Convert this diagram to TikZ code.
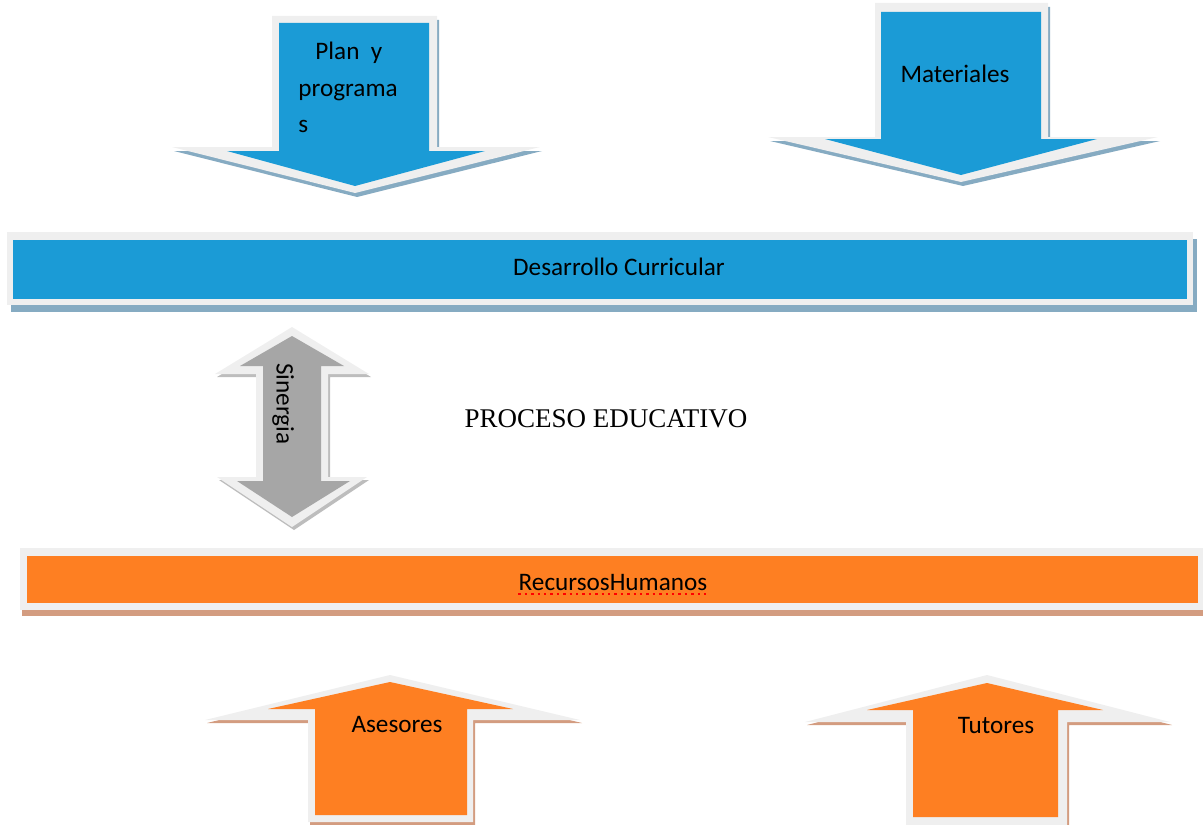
\documentclass[tikz,border=0pt]{standalone}
\usepackage{fontspec}
\setmainfont{Carlito}
\newfontfamily\timesfont{Liberation Serif}
\usetikzlibrary{calc}

\definecolor{cblue}{HTML}{1B9BD6}
\definecolor{cblueshadow}{HTML}{86ABC2}
\definecolor{corange}{HTML}{FE7F22}
\definecolor{corangeshadow}{HTML}{D39C80}
\definecolor{cgray}{HTML}{A6A6A6}
\definecolor{cgrayshadow}{HTML}{BDBDBD}
\definecolor{crim}{HTML}{EFEFEF}

\tikzset{
	rim/.style={fill=crim},
	label/.style={font=\fontsize{12.6}{15}\selectfont, inner sep=0pt, anchor=base}
}

\begin{document}
\begin{tikzpicture}[x=0.5pt, y=-0.5pt]
			%%%%% START %%%%%
			\useasboundingbox (0, 0) rectangle (1203, 824);
			
			% arrow: plan y programas
			\fill[cblueshadow] (274, 20) -- (439, 20) -- (439, 151) -- (542, 151) -- (357, 197) -- (174, 151) -- (274, 151) -- cycle;
			\fill[rim] (272, 16) -- (437, 16) -- (437, 147) -- (540, 147) -- (355, 193) -- (172, 147) -- (272, 147) -- cycle;
			\fill[cblue] (279, 23) -- (429, 23) -- (429, 151) -- (485, 151) -- (355, 186) -- (227, 151) -- (279, 151) -- cycle;
			\node[label, anchor=base west] (planA) at (315, 60) {Plan\ \ y};
			\node[label, anchor=base west] (planB) at (298, 97) {programa};
			\node[label, anchor=base west] (planC) at (298, 133) {s};
			
			% arrow: materiales
			\fill[cblueshadow] (877, 7) -- (1050, 7) -- (1050, 141) -- (1160, 141) -- (963, 186) -- (770, 141) -- (877, 141) -- cycle;
			\fill[rim] (875, 3) -- (1048, 3) -- (1048, 137) -- (1158, 137) -- (961, 182) -- (768, 137) -- (875, 137) -- cycle;
			\fill[cblue] (881, 12) -- (1041, 12) -- (1041, 139) -- (1097, 139) -- (961, 175) -- (825, 139) -- (881, 139) -- cycle;
			\node[label] (materiales) at (955, 83) {Materiales};
			
			% bar: desarrollo curricular
			\fill[cblueshadow] (11, 239) rectangle (1197, 312);
			\fill[rim] (7, 232) rectangle (1193, 305);
			\fill[cblue] (13, 240) rectangle (1187, 299);
			\node[label] (desarrollo) at (619, 275) {Desarrollo Curricular};
			
			% arrow: sinergia
			\fill[cgrayshadow] (294, 330) -- (371, 377) -- (330, 377) -- (330, 480) -- (369, 480) -- (294, 530) -- (219, 480) -- (258, 480) -- (258, 377) -- (217, 377) -- cycle;
			\fill[rim] (292, 327) -- (369, 374) -- (328, 374) -- (328, 477) -- (367, 477) -- (292, 527) -- (217, 477) -- (256, 477) -- (256, 374) -- (215, 374) -- cycle;
			\fill[cgray] (292, 336) -- (344, 366) -- (321, 366) -- (321, 481) -- (350, 481) -- (292, 517) -- (237, 481) -- (263, 481) -- (263, 366) -- (240, 366) -- cycle;
			\node[label, anchor=center, rotate=-90] (sinergia) at (283, 404) {Sinergia};
			
			\node[inner sep=0pt, anchor=base, font=\timesfont\fontsize{13.5}{16}\selectfont] (proceso) at (606, 427) {PROCESO EDUCATIVO};
			
			% bar: recursos humanos
			\fill[corangeshadow] (22, 554) rectangle (1207, 616);
			\fill[rim] (20, 548) rectangle (1205, 610);
			\fill[corange] (27, 556) rectangle (1198, 603);
			\node[label] (recursos) at (613, 590) {RecursosHumanos};
			\draw[red, dotted, line width=1.2] ($(recursos.base west)+(0, 4)$) -- ($(recursos.base east)+(2, 4)$);
			
			% arrow: asesores
			\fill[corangeshadow] (392, 678) -- (582, 723) -- (475, 723) -- (475, 825) -- (310, 825) -- (310, 723) -- (207, 723) -- cycle;
			\fill[rim] (390, 675) -- (580, 720) -- (473, 720) -- (473, 822) -- (308, 822) -- (308, 720) -- (205, 720) -- cycle;
			\fill[corange] (390, 682) -- (513, 709) -- (467, 709) -- (467, 815) -- (315, 815) -- (315, 709) -- (268, 709) -- cycle;
			\node[label] (asesores) at (397, 732) {Asesores};
			
			% arrow: tutores
			\fill[corangeshadow] (989, 678) -- (1172, 725) -- (1069, 725) -- (1069, 830) -- (908, 830) -- (908, 725) -- (807, 725) -- cycle;
			\fill[rim] (987, 675) -- (1170, 722) -- (1067, 722) -- (1067, 826) -- (906, 826) -- (906, 722) -- (805, 722) -- cycle;
			\fill[corange] (987, 683) -- (1103, 710) -- (1058, 710) -- (1058, 817) -- (913, 817) -- (913, 710) -- (867, 710) -- cycle;
			\node[label] (tutores) at (996, 733) {Tutores};
			
			%%%%% END %%%%%
\end{tikzpicture}
\end{document}
